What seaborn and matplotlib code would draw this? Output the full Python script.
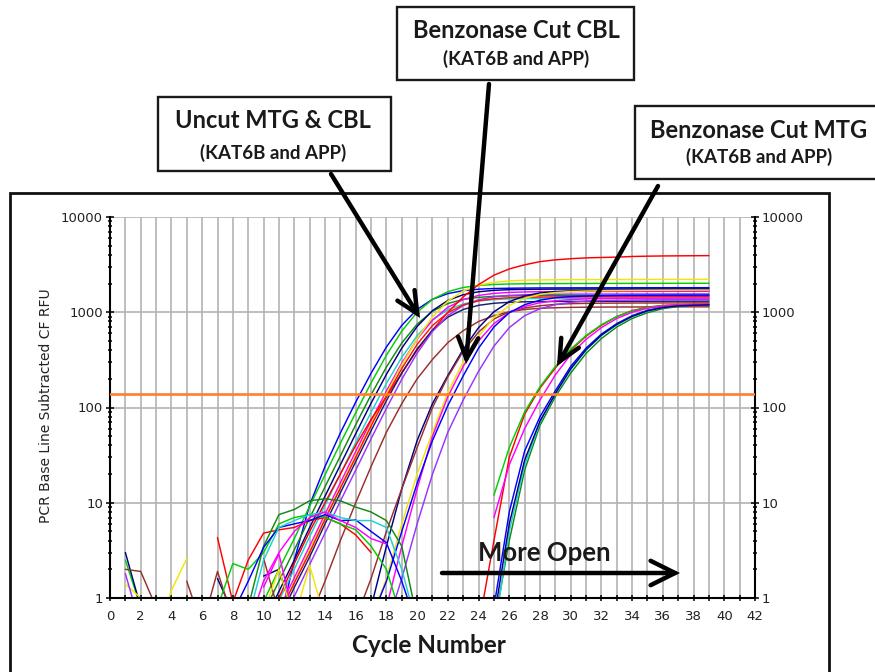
import matplotlib
matplotlib.use("Agg")
import matplotlib.pyplot as plt
import numpy as np
import pandas as pd
import seaborn as sns
from matplotlib.patches import Rectangle, FancyArrowPatch
from matplotlib.ticker import FixedLocator, FixedFormatter, LogLocator, NullFormatter, MultipleLocator

N = None

# ---------------- data ----------------
CYCLES = list(range(1, 40))

THRESHOLD = 140
X_TICKS = list(range(0, 43, 2))
Y_TICKS = [1, 10, 100, 1000, 10000]
Y_TICK_LABELS = ["1", "10", "100", "1000", "10000"]

# Uncut MTG & CBL
uncut_blue = [N, N, N, N, N, N, N, N, N, N,
              0.5, 2.5, 9.5, 24, 54, 114, 229, 432, 729, 1071,
              1368, 1571, 1687, 1746, 1775, 1787, 1795, 1800, 1802, 1804,
              1805, 1806, 1807, 1808, 1808, 1809, 1810, 1810, 1811]
uncut_green = [2.5, 0.8, N, N, N, N, N, N, 0.42, 0.92,
               2.0, 4.2, 9.2, 19.6, 42, 88, 181, 354, 634, 1000,
               1366, 1646, 1820, 1912, 1958, 1980, 1990, 1996, 2000, 2003,
               2005, 2007, 2008, 2010, 2011, 2012, 2013, 2014, 2015]
uncut_darkgreen = [N, N, N, N, N, N, N, N, N, 0.69,
                   1.5, 3.2, 6.9, 14.7, 31, 66, 136, 266, 476, 750,
                   1025, 1235, 1365, 1434, 1469, 1485, 1493, 1497, 1500, 1502,
                   1503, 1504, 1505, 1506, 1507, 1508, 1509, 1510, 1510]
uncut_navy = [3.0, 0.8, N, N, N, N, 1.6, 0.7, N, 0.54,
              1.17, 2.5, 5.5, 11.7, 25, 53, 111, 223, 420, 709,
              1041, 1330, 1528, 1640, 1698, 1726, 1738, 1745, 1750, 1752,
              1754, 1755, 1756, 1757, 1758, 1759, 1760, 1760, 1761]
uncut_cyan = [N, N, N, N, N, N, N, N, N, 0.43,
              0.94, 2.0, 4.4, 9.4, 20, 43, 89, 179, 336, 567,
              833, 1064, 1222, 1312, 1358, 1380, 1390, 1396, 1400, 1402,
              1403, 1404, 1405, 1406, 1407, 1408, 1408, 1409, 1410]
uncut_magenta = [N, N, N, N, N, N, N, N, N, 0.35,
                 0.76, 1.63, 3.5, 7.6, 16.2, 34.5, 72.6, 149, 292, 523,
                 825, 1127, 1358, 1502, 1577, 1615, 1634, 1642, 1647, 1650,
                 1652, 1653, 1654, 1655, 1656, 1657, 1658, 1658, 1659]
uncut_yellow = [1.4, 1.0, 0.4, 1.2, 2.6, N, N, N, N, 0.32,
                0.68, 1.47, 3.2, 6.9, 14.7, 31.5, 67, 139, 280, 528,
                891, 1309, 1672, 1921, 2061, 2134, 2169, 2185, 2193, 2200,
                2203, 2205, 2207, 2208, 2210, 2211, 2212, 2213, 2214]
uncut_red = [N, N, N, N, N, N, N, N, N, 0.4,
             1.0, 2.3, 5, 10, 20, 40, 75, 130, 230, 400,
             650, 1000, 1450, 1950, 2450, 2850, 3150, 3400, 3550, 3650,
             3720, 3760, 3790, 3850, 3880, 3900, 3910, 3920, 3930]
uncut_brown = [2.0, 1.9, 0.8, N, N, N, N, N, N, N,
               N, N, 0.6, 1.5, 4, 10, 24, 55, 110, 200,
               320, 480, 640, 800, 920, 1010, 1070, 1100, 1115, 1125,
               1130, 1133, 1135, 1136, 1137, 1138, 1139, 1140, 1140]
uncut_navy2 = [N, N, N, N, N, N, N, N, N, N,
               0.6, 1.29, 2.7, 6.0, 12.7, 27, 57, 118, 230, 412,
               650, 888, 1070, 1183, 1243, 1273, 1287, 1294, 1297, 1300,
               1301, 1302, 1303, 1304, 1305, 1305, 1306, 1306, 1307]
uncut_purple = [1.8, 0.5, N, N, N, N, N, N, N, N,
                0.48, 1.04, 2.25, 4.8, 10.4, 22, 47, 98, 198, 372,
                628, 922, 1178, 1353, 1452, 1504, 1528, 1539, 1545, 1550,
                1551, 1552, 1553, 1554, 1555, 1556, 1557, 1558, 1558]
uncut_red2 = [N, N, N, N, N, N, N, N, N, N,
              0.67, 1.44, 3.0, 6.7, 14.2, 30, 64, 131, 257, 460,
              725, 990, 1193, 1320, 1386, 1420, 1436, 1443, 1447, 1450,
              1451, 1452, 1453, 1454, 1455, 1456, 1457, 1458, 1458]

# Benzonase Cut CBL
cbl_navy = [N, N, N, N, N, N, N, N, N, 1.7,
            2.0, 0.6, N, N, N, N, 0.8, 3.5, 14, 45,
            110, 217, 408, 689, 1012, 1292, 1484, 1593, 1649, 1676,
            1688, 1695, 1700, 1702, 1704, 1705, 1706, 1707, 1708]
cbl_brown = [N, N, N, N, 1.5, 0.5, 1.9, 0.6, N, 2.6,
             0.7, N, N, N, N, 0.6, 1.6, 5, 14, 38,
             100, 210, 390, 620, 850, 1010, 1110, 1170, 1210, 1230,
             1240, 1245, 1248, 1250, 1251, 1252, 1253, 1254, 1255]
cbl_yellow = [N, N, N, N, N, N, N, N, N, 0.7,
              2.0, 0.6, 2.2, 0.6, N, N, 0.6, 1.6, 6, 20,
              55, 145, 300, 560, 880, 1180, 1400, 1540, 1610, 1650,
              1670, 1680, 1690, 1695, 1700, 1703, 1705, 1707, 1708]
cbl_magenta = [N, N, N, N, N, N, N, N, N, 1.3,
               2.9, 0.6, N, N, N, N, N, 0.8, 3.5, 14,
               50, 130, 270, 500, 760, 990, 1150, 1260, 1320, 1360,
               1380, 1390, 1400, 1403, 1405, 1407, 1408, 1409, 1410]
cbl_purple = [N, N, N, N, N, N, N, N, N, N,
              N, N, N, N, N, N, N, 0.5, 1.6, 6,
              20, 55, 120, 240, 440, 690, 920, 1090, 1200, 1270,
              1310, 1330, 1340, 1345, 1350, 1352, 1354, 1355, 1356]
cbl_blue = [N, N, N, N, N, N, N, N, N, N,
            N, N, N, N, N, N, 0.6, 1.5, 5, 16,
            45, 105, 215, 420, 700, 990, 1200, 1340, 1420, 1460,
            1480, 1490, 1500, 1505, 1508, 1510, 1512, 1513, 1514]

# Benzonase Cut MTG
mtg_red = [N, N, N, N, N, N, 4.3, 0.9, 2.5, 4.8,
           5.2, 5.5, 6.5, 7.0, 6.0, 4.6, 3.0, N, N, N,
           N, N, N, 0.5, 4, 30, 85, 160, 260, 400,
           560, 730, 900, 1040, 1130, 1180, 1200, 1210, 1215]
mtg_green = [N, N, N, N, N, N, 0.8, 2.3, 2.0, 3.0,
             6.0, 7.0, 7.5, 7.0, 6.0, 5.2, 3.5, 2.0, 0.6, N,
             N, N, N, N, 12, 38, 90, 165, 270, 410,
             570, 740, 900, 1030, 1120, 1170, 1190, 1200, 1205]
mtg_darkgreen = [N, N, N, N, N, N, N, N, 0.8, 3.5,
                 7.5, 8.5, 10.5, 11, 10.5, 9.0, 8.0, 6.5, 3.5, 0.6,
                 N, N, N, N, 0.5, 4, 22, 65, 130, 230,
                 370, 530, 700, 860, 990, 1090, 1150, 1180, 1190]
mtg_blue = [N, N, N, N, N, N, N, 0.7, 1.5, 3.4,
            5.5, 6.0, 6.5, 7.5, 6.5, 6.6, 5.0, 3.8, 1.5, 0.5,
            N, N, N, N, 0.8, 8, 35, 80, 150, 270,
            420, 590, 760, 920, 1050, 1130, 1170, 1190, 1200]
mtg_cyan = [N, N, N, N, N, N, N, N, 0.6, 2.5,
            5.5, 6.5, 7.5, 8.0, 7.0, 6.5, 6.5, 5.5, 2.0, 0.5,
            N, N, N, N, 0.4, 5, 25, 70, 140, 250,
            400, 570, 740, 900, 1030, 1120, 1170, 1190, 1200]
mtg_magenta = [N, N, N, N, N, N, N, N, 0.5, 1.5,
               3.0, 5.0, 7.0, 8.0, 6.5, 5.5, 4.2, 3.7, N, N,
               N, N, N, N, 7, 25, 60, 120, 220, 360,
               520, 690, 860, 1000, 1100, 1160, 1190, 1200, 1210]
mtg_navy = [N, N, N, N, N, N, N, N, N, N,
            N, N, N, N, N, N, N, N, N, N,
            N, N, N, N, 0.6, 6, 28, 72, 140, 255,
            405, 575, 745, 905, 1035, 1120, 1165, 1185, 1195]

SERIES = {
    "uncut_blue": uncut_blue, "uncut_green": uncut_green, "uncut_darkgreen": uncut_darkgreen,
    "uncut_navy": uncut_navy, "uncut_cyan": uncut_cyan, "uncut_magenta": uncut_magenta,
    "uncut_yellow": uncut_yellow, "uncut_red": uncut_red, "uncut_brown": uncut_brown,
    "uncut_navy2": uncut_navy2, "uncut_purple": uncut_purple, "uncut_red2": uncut_red2,
    "cbl_navy": cbl_navy, "cbl_brown": cbl_brown, "cbl_yellow": cbl_yellow,
    "cbl_magenta": cbl_magenta, "cbl_purple": cbl_purple, "cbl_blue": cbl_blue,
    "mtg_red": mtg_red, "mtg_green": mtg_green, "mtg_darkgreen": mtg_darkgreen,
    "mtg_blue": mtg_blue, "mtg_cyan": mtg_cyan, "mtg_magenta": mtg_magenta, "mtg_navy": mtg_navy,
}

# ---------------- styles ----------------
BASE_COLORS = {
    "blue": "#0000ff", "green": "#00d000", "darkgreen": "#108a10", "navy": "#000080",
    "navy2": "#1c1c70", "cyan": "#20d0d0", "magenta": "#ff00ff", "yellow": "#f2e600",
    "red": "#ff0000", "red2": "#ff1010", "brown": "#9a2e2e", "purple": "#9933ff",
}
COLORS = {name: BASE_COLORS[name.split("_", 1)[1]] for name in SERIES}

sns.set_style("white")
plt.rcParams["font.family"] = ["DejaVu Sans"]

W, H = 875, 672
fig = plt.figure(figsize=(W / 100, H / 100), dpi=100)
ax = fig.add_axes([110 / W, 74 / H, 645 / W, 381 / H])
ax.set_yscale("log")

rows = []
for name, vals in SERIES.items():
    seg = 0
    gap = True
    for c, v in zip(CYCLES, vals):
        if v is None:
            gap = True
            continue
        if gap:
            seg += 1
            gap = False
        rows.append((name, f"{name}-{seg}", c, v))
df = pd.DataFrame(rows, columns=["curve", "seg", "cycle", "rfu"])

sns.lineplot(data=df, x="cycle", y="rfu", hue="curve", units="seg", estimator=None,
             palette=COLORS, linewidth=1.05, legend=False, ax=ax, sort=False, zorder=2)

ax.axhline(THRESHOLD, color="#ff7f2a", lw=1.9, zorder=3)

ax.set_xlim(0, 42)
ax.set_ylim(1, 10000)
ax.xaxis.set_major_locator(FixedLocator(X_TICKS))
ax.xaxis.set_minor_locator(MultipleLocator(1))
ax.yaxis.set_major_locator(FixedLocator(Y_TICKS))
ax.yaxis.set_major_formatter(FixedFormatter(Y_TICK_LABELS))
ax.yaxis.set_minor_locator(LogLocator(base=10, subs=np.arange(2, 10)))
ax.yaxis.set_minor_formatter(NullFormatter())

ax.set_axisbelow(True)
ax.grid(which="major", axis="y", color="#b3b3b3", lw=1.2)
ax.grid(which="both", axis="x", color="#b3b3b3", lw=1.2)

for s in ["left", "bottom", "right"]:
    ax.spines[s].set_visible(True)
    ax.spines[s].set_color("black")
    ax.spines[s].set_linewidth(1.5)
ax.spines["top"].set_visible(False)

ax.tick_params(axis="both", which="both", direction="inout", color="black", width=1.1)
ax.tick_params(axis="y", which="major", length=6, left=True, right=True,
               labelleft=True, labelright=True, labelsize=9.5, pad=2, labelcolor="#222222")
ax.tick_params(axis="y", which="minor", length=3.5, left=True, right=True)
ax.tick_params(axis="x", which="both", length=5, bottom=True, top=False,
               labelsize=9.5, pad=6, labelcolor="#222222")

ax.set_ylabel("PCR Base Line Subtracted CF RFU", fontsize=10, color="#222222")
ax.yaxis.set_label_coords(-0.089, 0.505)
ax.set_xlabel("Cycle Number", fontsize=17.5, fontweight="bold", family=["Lato", "DejaVu Sans"],
              color="#1a1a1a")
ax.xaxis.set_label_coords(0.495, -0.095)

# ---------------- annotations (figure pixel coordinates) ----------------
def fx(x):
    return x / W

def fy(y):
    return 1 - y / H

def box(x0, y0, x1, y1):
    fig.add_artist(Rectangle((fx(x0), fy(y1)), fx(x1) - fx(x0), fy(y0) - fy(y1),
                             transform=fig.transFigure, facecolor="white",
                             edgecolor="#1a1a1a", lw=1.7, zorder=5, clip_on=False))

def label(xc, y1c, y2c, t1, t2):
    fig.text(fx(xc), fy(y1c), t1, ha="center", va="center", fontsize=17,
             fontweight="bold", family=["Lato", "DejaVu Sans"], color="#1a1a1a", zorder=6)
    fig.text(fx(xc), fy(y2c), t2, ha="center", va="center", fontsize=13.5,
             fontweight="bold", family=["Lato", "DejaVu Sans"], color="#1a1a1a", zorder=6)

def arrow(x0, y0, x1, y1, hl=0.7, hw=0.33, ms=22):
    fig.add_artist(FancyArrowPatch((fx(x0), fy(y0)), (fx(x1), fy(y1)),
                                   transform=fig.transFigure,
                                   arrowstyle=f"->,head_length={hl},head_width={hw}",
                                   mutation_scale=ms, lw=3.2, color="black",
                                   shrinkA=0, shrinkB=0, zorder=7, capstyle="round",
                                   joinstyle="miter"))

# outer frame
fig.add_artist(Rectangle((fx(10), fy(690)), fx(829) - fx(10), fy(193) - fy(690),
                         transform=fig.transFigure, facecolor="none",
                         edgecolor="#111111", lw=2.0, zorder=4, clip_on=False))

box(158, 97, 391, 171)
label(273, 121, 153, "Uncut MTG & CBL", "(KAT6B and APP)")
box(397, 7, 634, 80)
label(516, 30, 59, "Benzonase Cut CBL", "(KAT6B and APP)")
box(635, 106, 890, 179)
label(759, 130, 157, "Benzonase Cut MTG", "(KAT6B and APP)")

arrow(331, 174, 420, 318)
arrow(489, 84, 466, 364)
arrow(658, 186, 557, 366)

arrow(442, 573, 680, 573, hl=0.8, hw=0.4, ms=22)
fig.text(fx(544), fy(553), "More Open", ha="center", va="center", fontsize=18.5,
         fontweight="bold", family=["Lato", "DejaVu Sans"], color="#1a1a1a", zorder=6)

fig.savefig("out.png", dpi=100, facecolor="white")
